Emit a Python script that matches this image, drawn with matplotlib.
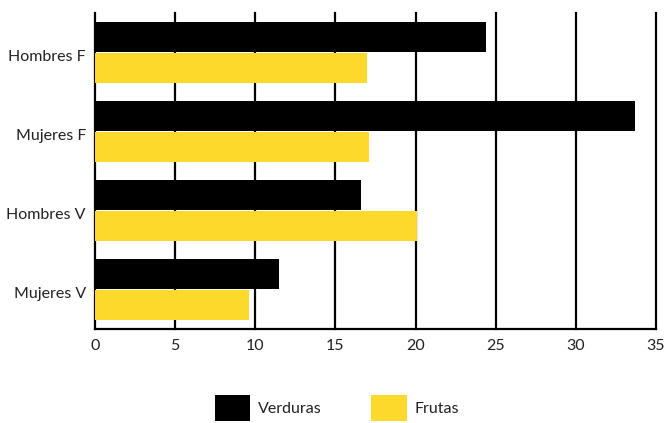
import matplotlib
matplotlib.use("Agg")
import matplotlib.pyplot as plt
import matplotlib.transforms as mtransforms
import numpy as np
from matplotlib.patches import Patch

plt.rcParams['font.family'] = ['Lato', 'DejaVu Sans']

categories = ["Hombres F", "Mujeres F", "Hombres V", "Mujeres V"]
verduras = [24.4, 33.7, 16.6, 11.5]
frutas = [17.0, 17.1, 20.1, 9.6]
series_names = ["Verduras", "Frutas"]
colors = ["#000000", "#FCD92B"]
xticks = [0, 5, 10, 15, 20, 25, 30, 35]

fig = plt.figure(figsize=(6.66, 4.23), dpi=100)
ax = fig.add_axes([95/666, (423-329)/423, (656-95)/666, (329-13)/423])

y = np.arange(len(categories))
h = 0.37
off = 0.195
ax.barh(y - off, verduras, height=h, color=colors[0], zorder=3)
ax.barh(y + off, frutas, height=h, color=colors[1], zorder=3)

ax.set_ylim(3.5, -0.5)
ax.set_xlim(0, 35)
ax.set_xticks(xticks)
ax.set_xticklabels([str(t) for t in xticks])
ax.set_yticks(y)
ax.set_yticklabels(categories)
ax.tick_params(axis='both', length=0, labelsize=11.5, colors='#222222')
ax.tick_params(axis='x', pad=7.5)
ax.tick_params(axis='y', pad=6.5)
shift = mtransforms.ScaledTranslation(0, -3/100, fig.dpi_scale_trans)
for lbl in ax.get_yticklabels():
    lbl.set_va('center_baseline')
    lbl.set_transform(lbl.get_transform() + shift)

ax.grid(axis='x', color='black', linewidth=1.6, zorder=1)
ax.set_axisbelow(True)
for gl in ax.get_xgridlines():
    gl.set_clip_on(False)
for s in ['top', 'right', 'left']:
    ax.spines[s].set_visible(False)
ax.spines['bottom'].set_linewidth(1.6)
ax.spines['bottom'].set_color('black')

handles = [Patch(facecolor=c, edgecolor='none') for c in colors]
fig.legend(handles, series_names, loc='center', bbox_to_anchor=(337/666, 1 - 408/423),
           ncol=2, frameon=False, fontsize=11.5, handlelength=2.2, handleheight=2.15,
           handletextpad=0.5, columnspacing=3.1, labelcolor='#222222',
           borderpad=0, borderaxespad=0)

fig.savefig("out.png", dpi=100)
